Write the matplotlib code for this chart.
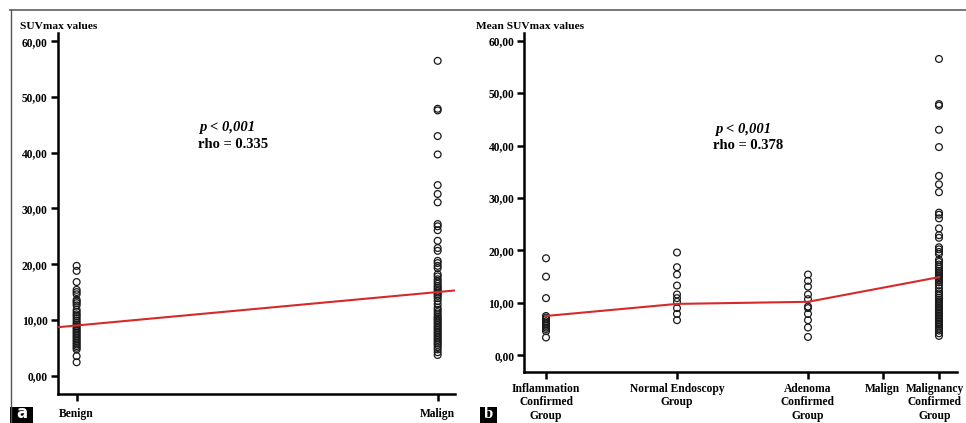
import numpy as np
import matplotlib
matplotlib.use("Agg")
import matplotlib.pyplot as plt
import matplotlib.ticker as mticker
import matplotlib.transforms as mtransforms
from matplotlib.lines import Line2D
from matplotlib.patches import Rectangle

# ==============================
# DATA
# ==============================
benign_vals = [19.7, 18.8, 16.8, 15.4, 15.0, 14.6, 13.6, 13.3, 13.0, 12.6, 11.8, 11.4,
               11.0, 10.7, 10.3, 9.9, 9.5, 9.2, 8.9, 8.6, 8.3, 8.0, 7.7, 7.4, 7.1, 6.8,
               6.5, 6.2, 5.9, 5.6, 5.3, 5.0, 4.7, 3.5, 2.4]

malign_vals = [56.5, 47.9, 47.6, 43.0, 39.7, 34.2, 32.6, 31.1, 27.2, 26.8, 26.1, 24.2,
               22.9, 22.4, 20.6, 20.2, 19.7, 19.3, 18.2, 17.8, 17.3, 16.9, 16.5, 16.1,
               15.8, 15.5, 15.2, 14.9, 14.6, 14.3, 13.9, 13.4, 12.8, 12.2, 11.8, 11.4,
               11.0, 10.6, 10.3, 10.0, 9.7, 9.4, 9.1, 8.8, 8.5, 8.2, 7.9, 7.6, 7.3, 7.0,
               6.7, 6.4, 6.1, 5.8, 5.5, 5.1, 4.7, 4.2, 3.7]

inflam_vals = [18.5, 15.0, 10.9, 7.5, 7.2, 6.9, 6.5, 6.2, 5.9, 5.6, 5.3, 5.0, 4.6, 3.4]
normal_vals = [19.6, 16.8, 15.4, 13.3, 11.6, 10.9, 10.2, 9.0, 7.9, 6.7]
adenoma_vals = [15.4, 14.2, 13.1, 11.6, 10.7, 9.3, 9.0, 7.9, 6.7, 5.3, 3.5]

# panel a: fit line values at the two categories
fit_a = [9.0, 15.0]
# panel b: group means joined by the red line
means_b = [7.5, 9.8, 10.2, 14.9]

labels_a = ["Benign", "Malign"]
labels_b = ["Inflammation\nConfirmed\nGroup", "Normal Endoscopy\nGroup",
            "Adenoma\nConfirmed\nGroup", "Malign", "Malignancy\nConfirmed\nGroup"]
tick_pos_b = [0, 1, 2, 2.57, 3]

# ==============================
# STYLE
# ==============================
plt.rcParams["font.family"] = ["Liberation Serif", "DejaVu Serif"]
plt.rcParams["font.weight"] = "bold"
red = "#d62a2a"
tick_fs = 8.3

fig = plt.figure(figsize=(9.66, 4.23), dpi=100)
W, H = 966.0, 423.0


def px_axes(left, right, top, bottom):
    return fig.add_axes([left / W, (H - bottom) / H, (right - left) / W, (bottom - top) / H])


def style_axes(ax):
    for s in ["top", "right"]:
        ax.spines[s].set_visible(False)
    for s in ["left", "bottom"]:
        ax.spines[s].set_linewidth(1.8)
    ax.tick_params(axis="both", direction="out", length=5, width=1.8, labelsize=tick_fs)
    ax.tick_params(axis="y", pad=2)
    ax.yaxis.set_major_locator(mticker.MultipleLocator(10))
    ax.yaxis.set_major_formatter(mticker.FuncFormatter(lambda v, p: f"{v:.2f}".replace(".", ",")))
    for lab in ax.get_yticklabels():
        lab.set_fontweight("bold")


marker_kw = dict(marker="o", s=24, facecolors="none", edgecolors="#1a1a1a",
                 linewidths=0.9, zorder=3)

# ---------- panel a ----------
ax1 = px_axes(57.5, 455, 33, 394)
ax1.scatter(np.zeros(len(benign_vals)), benign_vals, **marker_kw)
ax1.scatter(np.ones(len(malign_vals)), malign_vals, **marker_kw)
xlim_a = (-0.053, 1.048)
slope = fit_a[1] - fit_a[0]
xs = np.array(xlim_a)
ax1.plot(xs, fit_a[0] + slope * xs, color=red, lw=1.5, zorder=4)
ax1.set_xlim(*xlim_a)
ax1.set_ylim(-3.3, 61.5)
style_axes(ax1)
ax1.set_xticks([0, 1])
ax1.set_xticklabels(labels_a, fontsize=tick_fs, fontweight="bold")
ax1.tick_params(axis="x", pad=5)
ax1.text(0.34, 44.5, "p < 0,001", fontsize=10.5, style="italic", fontweight="bold",
         va="center", ha="left")
ax1.text(0.335, 41.4, "rho = 0.335", fontsize=10.5, fontweight="bold", va="center", ha="left")
fig.text(20 / W, (H - 26.5) / H, "SUVmax values", fontsize=8.2, fontweight="bold",
         va="center", ha="left")

# ---------- panel b ----------
ax2 = px_axes(524, 957.3, 33, 372.3)
for i, vals in enumerate([inflam_vals, normal_vals, adenoma_vals, malign_vals]):
    ax2.scatter(np.full(len(vals), i), vals, **marker_kw)
ax2.plot(range(len(means_b)), means_b, color=red, lw=1.5, zorder=4)
ax2.set_xlim(-0.168, 3.14)
ax2.set_ylim(-3.24, 61.45)
style_axes(ax2)
ax2.set_xticks(tick_pos_b)
ax2.set_xticklabels(labels_b, fontsize=tick_fs, fontweight="bold", linespacing=1.12)
ax2.tick_params(axis="x", pad=3)
# keep the last category label inside the canvas
last_lab = ax2.get_xticklabels()[-1]
last_lab.set_transform(last_lab.get_transform() +
                       mtransforms.ScaledTranslation(-4 / 100, 0, fig.dpi_scale_trans))
ax2.text(1.29, 43.1, "p < 0,001", fontsize=10.5, style="italic", fontweight="bold",
         va="center", ha="left")
ax2.text(1.275, 40.0, "rho = 0.378", fontsize=10.5, fontweight="bold", va="center", ha="left")
fig.text(476 / W, (H - 26.5) / H, "Mean SUVmax values", fontsize=8.2, fontweight="bold",
         va="center", ha="left")

# ---------- frame + panel letters ----------
fig.add_artist(Line2D([10 / W, 1], [(H - 10) / H] * 2, color="#777777", lw=1.4))
fig.add_artist(Line2D([10.5 / W] * 2, [0, (H - 10) / H], color="#555555", lw=1.0))

fig.add_artist(Rectangle((10 / W, 0), 23 / W, 16 / H, facecolor="black", edgecolor="none"))
fig.text(21.5 / W, 1 / H, "a", color="white", fontsize=12, fontweight="bold",
         family="DejaVu Sans", ha="center", va="bottom")
fig.add_artist(Rectangle((480 / W, 0), 17 / W, 16 / H, facecolor="black", edgecolor="none"))
fig.text(488.5 / W, 1 / H, "b", color="white", fontsize=12, fontweight="bold",
         ha="center", va="bottom")

fig.savefig("out.png", dpi=100)
